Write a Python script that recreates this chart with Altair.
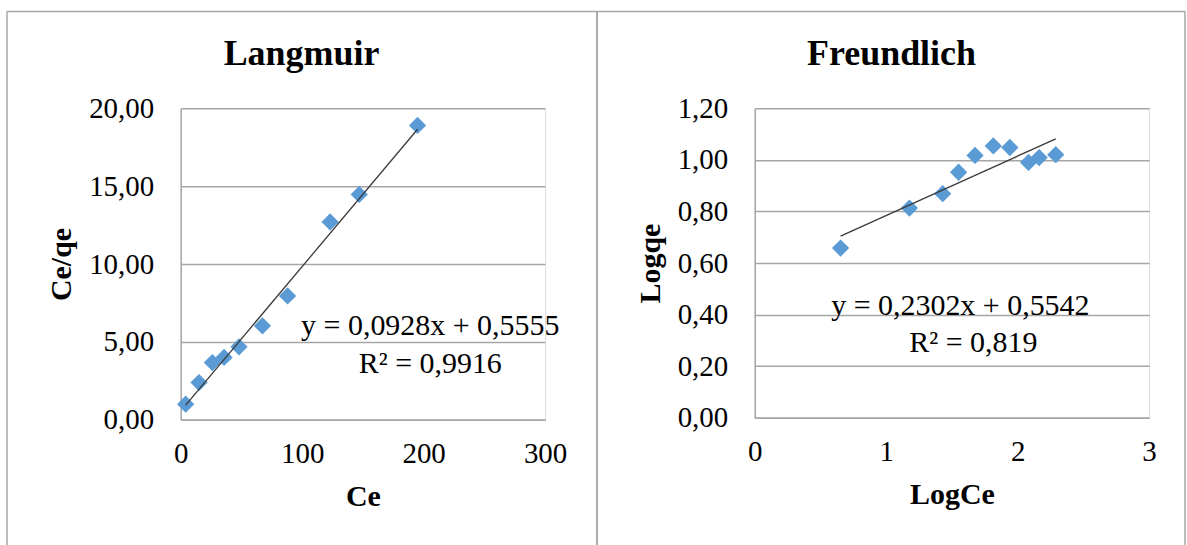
import altair as alt
import pandas as pd

# Langmuir isotherm: Ce versus Ce/qe
ce = [4.1, 15.1, 26.1, 35.7, 48.0, 67.3, 88.0, 123.0, 147.0, 195.0]
ce_qe = [1.00, 2.39, 3.67, 4.00, 4.68, 6.03, 7.95, 12.70, 14.47, 18.90]

# Freundlich isotherm: LogCe versus Logqe
log_ce = [0.653, 1.177, 1.430, 1.551, 1.676, 1.815, 1.941, 2.083, 2.164, 2.290]
log_qe = [0.658, 0.813, 0.869, 0.952, 1.017, 1.054, 1.048, 0.990, 1.009, 1.020]

# Linear fits (slope, intercept) and coefficients of determination
lang_fit = [0.0928, 0.5555]
lang_r2 = "0,9916"
freund_fit = [0.2302, 0.5542]
freund_r2 = "0,819"

FONT = "Liberation Serif"
GRID = "#A6A6A6"
BLUE = "#5B9BD5"


def comma(v, digits):
    return f"{v:.{digits}f}".replace(".", ",")


def fit_line(xs, fit):
    lo, hi = min(xs), max(xs)
    return pd.DataFrame({"x": [lo, hi], "y": [fit[0] * lo + fit[1], fit[0] * hi + fit[1]]})


def panel(xs, ys, fit, r2, title, xtitle, ytitle, xdom, xvals, ydom, yvals,
          w, h, frame, eq_pos, r2_pos, title_pos):
    pts = pd.DataFrame({"x": xs, "y": ys})
    one = alt.Data(values=[{"k": 1}])
    xscale = alt.Scale(domain=xdom, nice=False, zero=False)
    yscale = alt.Scale(domain=ydom, nice=False, zero=False)

    x_axis = alt.Axis(values=xvals, grid=False, ticks=False, domainColor=GRID,
                      domainWidth=1.5, labelFont=FONT, labelFontSize=29,
                      labelColor="black", labelPadding=20, labelFlush=False,
                      labelExpr="format(datum.value, 'd')", title=xtitle,
                      titleFont=FONT, titleFontSize=30, titleFontWeight="bold",
                      titleColor="black", titlePadding=13)
    y_axis = alt.Axis(values=yvals, grid=True, gridColor=GRID, gridWidth=1.5,
                      ticks=False, domainColor=GRID, domainWidth=1.5,
                      labelFont=FONT, labelFontSize=29, labelColor="black",
                      labelPadding=27, labelFlush=False,
                      labelExpr="replace(format(datum.value, '.2f'), '.', ',')",
                      title=ytitle, titleFont=FONT, titleFontSize=30,
                      titleFontWeight="bold", titleColor="black", titlePadding=12)

    points = alt.Chart(pts).mark_point(shape="diamond", filled=True, size=300,
                                       color=BLUE, opacity=1).encode(
        x=alt.X("x:Q", scale=xscale, axis=x_axis),
        y=alt.Y("y:Q", scale=yscale, axis=y_axis),
    )
    trend = alt.Chart(fit_line(xs, fit)).mark_line(color="#3A3A3A", strokeWidth=1.3).encode(
        x=alt.X("x:Q", scale=xscale), y=alt.Y("y:Q", scale=yscale)
    )
    eq_text = f"y = {comma(fit[0], 4)}x + {comma(fit[1], 4)}"
    eq = alt.Chart(one).mark_text(font=FONT, fontSize=30, color="black",
                                  baseline="middle", align="center").encode(
        x=alt.value(eq_pos[0]), y=alt.value(eq_pos[1]), text=alt.value(eq_text))
    r2t = alt.Chart(one).mark_text(font=FONT, fontSize=30, color="black",
                                   baseline="middle", align="center").encode(
        x=alt.value(r2_pos[0]), y=alt.value(r2_pos[1]), text=alt.value(f"R² = {r2}"))
    ttl = alt.Chart(one).mark_text(font=FONT, fontSize=36, fontWeight="bold",
                                   color="black", baseline="alphabetic",
                                   align="center").encode(
        x=alt.value(title_pos[0]), y=alt.value(title_pos[1]), text=alt.value(title))

    # chart-area frame: left, top and right edges
    x0, x1, y0, y1 = frame
    edge = dict(color=GRID, strokeWidth=1.5)
    left = alt.Chart(one).mark_rule(**edge).encode(
        x=alt.value(x0), y=alt.value(y0), y2=alt.value(y1))
    right = alt.Chart(one).mark_rule(**edge).encode(
        x=alt.value(x1), y=alt.value(y0), y2=alt.value(y1))
    top = alt.Chart(one).mark_rule(**edge).encode(
        x=alt.value(x0), x2=alt.value(x1), y=alt.value(y0))

    return alt.layer(left, right, top, ttl, points, trend, eq, r2t).properties(
        width=w, height=h)


lang = panel(ce, ce_qe, lang_fit, lang_r2, "Langmuir", "Ce", "Ce/qe",
             [0, 300], [0, 100, 200, 300], [0, 20], [0, 5, 10, 15, 20],
             365, 312, (-174, 417, -97, 438), (250, 218), (250, 256), (121, -43))

freund = panel(log_ce, log_qe, freund_fit, freund_r2, "Freundlich", "LogCe", "Logqe",
               [0, 3], [0, 1, 2, 3], [0, 1.2], [0, 0.2, 0.4, 0.6, 0.8, 1.0, 1.2],
               395, 310, (-158, 431, -97, 438), (206, 198), (219, 235), (137, -43))

chart = alt.hconcat(lang, freund, spacing=210, bounds="flush").properties(
    padding={"left": 5, "top": 9, "right": 0, "bottom": 0}
).configure_view(stroke="transparent").configure(background="white")

chart.save("out.html", embed_options={"renderer": "svg", "actions": False})
